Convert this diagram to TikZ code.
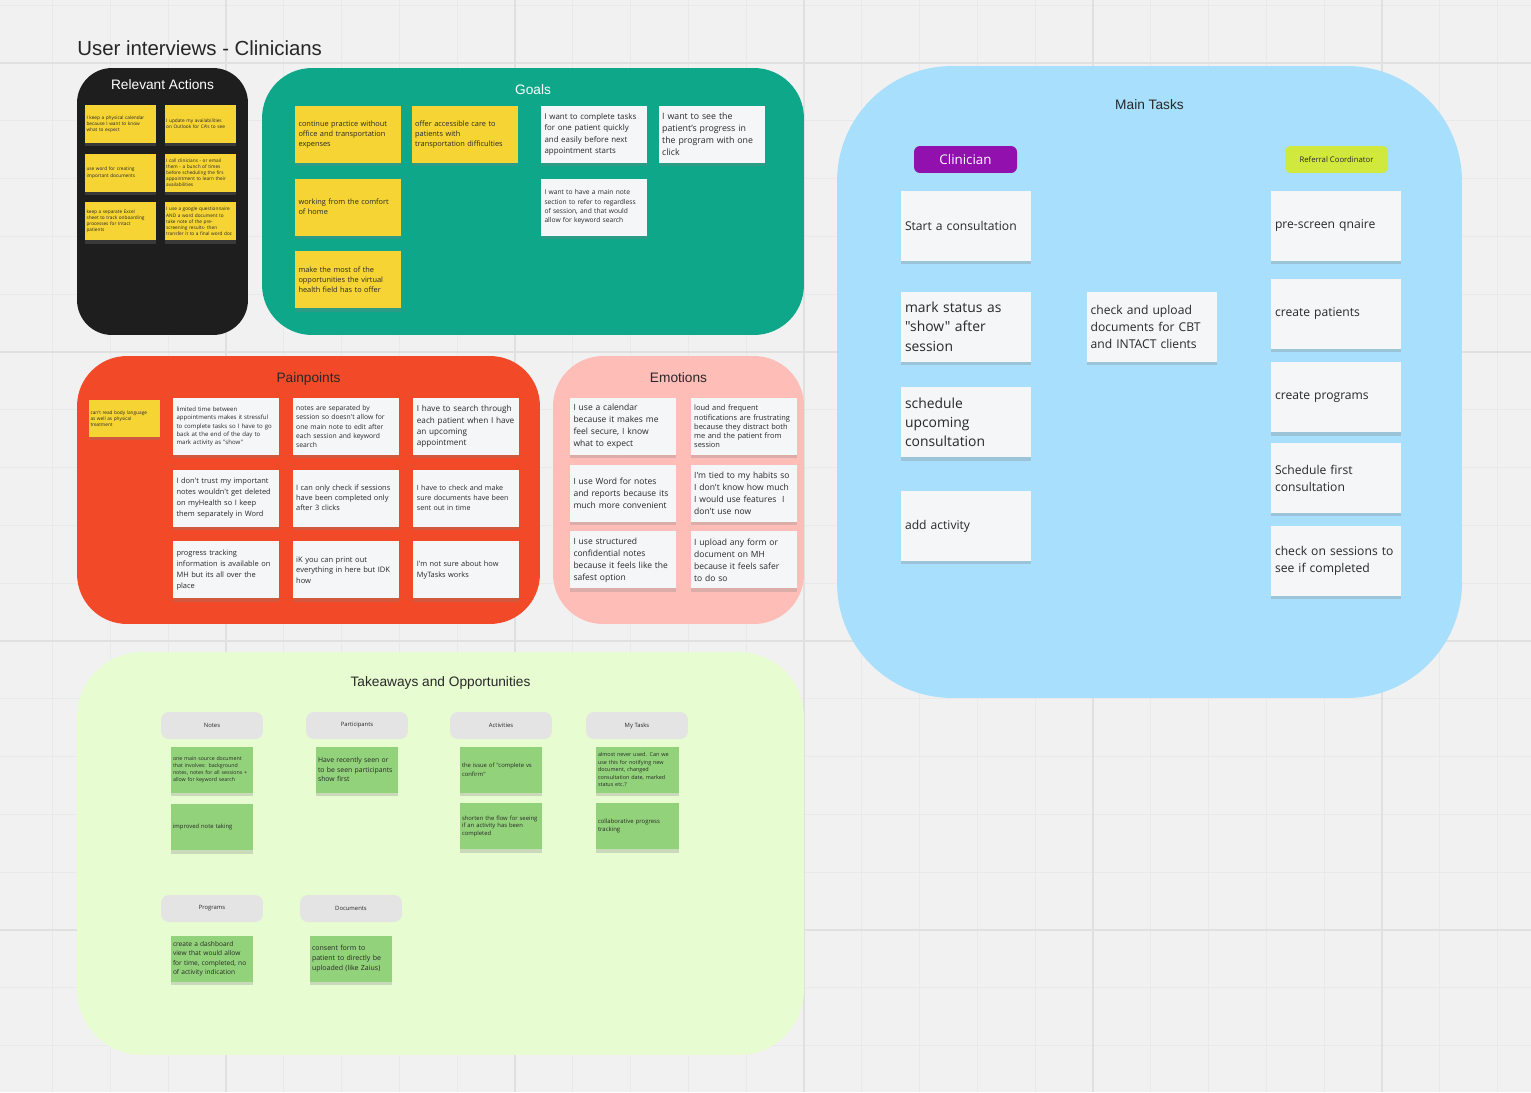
\documentclass[tikz,border=0pt]{standalone}
\usepackage{fontspec}
\setmainfont{Open Sans}[Ligatures=TeXOff]
\newfontfamily\headfont{Liberation Sans}
\usetikzlibrary{positioning,shadows}

\definecolor{canvasbg}{RGB}{241,241,241}
\definecolor{gridminor}{RGB}{233,233,233}
\definecolor{gridmajor}{RGB}{224,224,224}
\definecolor{noteink}{RGB}{40,40,40}
\definecolor{actionsblack}{RGB}{30,30,30}
\definecolor{goalsteal}{RGB}{14,167,137}
\definecolor{painred}{RGB}{242,74,40}
\definecolor{emopink}{RGB}{255,189,184}
\definecolor{takegreen}{RGB}{232,252,210}
\definecolor{tasksblue}{RGB}{168,223,252}
\definecolor{stickyyellow}{RGB}{245,212,52}
\definecolor{stickywhite}{RGB}{245,246,248}
\definecolor{stickygreen}{RGB}{146,210,122}
\definecolor{pillgray}{RGB}{228,228,228}
\definecolor{clinpurple}{RGB}{146,16,174}
\definecolor{refyellow}{RGB}{209,233,60}

\begin{document}
\begin{tikzpicture}[x=0.02cm, y=-0.02cm, node distance=0.2cm, every node/.style={text=noteink}]
  \tikzstyle{frame}=[inner sep=0pt, rounded corners=1cm]
  \tikzstyle{frametitle}=[inner sep=0pt, font=\headfont\fontsize{7.8}{9}\selectfont]
  \tikzstyle{sticky}=[align=left, inner ysep=0pt, drop shadow={shadow xshift=0pt, shadow yshift=-1.8pt, opacity=0.28}]
  \tikzstyle{smallsticky}=[sticky, minimum width=1.42cm, minimum height=0.76cm, inner xsep=0.03cm, text width=1.36cm]
  \tikzstyle{midsticky}=[sticky, minimum width=2.12cm, minimum height=1.14cm, inner xsep=0.07cm, text width=1.98cm]
  \tikzstyle{bigsticky}=[sticky, fill=stickywhite, minimum width=2.6cm, minimum height=1.4cm, inner xsep=0.08cm, text width=2.44cm, font=\fontsize{6.9}{9.6}\selectfont]
  \tikzstyle{greensticky}=[sticky, fill=stickygreen, minimum width=1.66cm, minimum height=0.92cm, inner xsep=0.05cm, text width=1.56cm]
  \tikzstyle{pill}=[fill=pillgray, rounded corners=0.16cm, minimum width=2.04cm, minimum height=0.54cm, inner sep=0pt, font=\fontsize{3.35}{4}\selectfont]
  \tikzstyle{tinytext}=[font=\fontsize{2.7}{3.5}\selectfont]
  \tikzstyle{midtext}=[font=\fontsize{4.2}{5.7}\selectfont]
  \tikzstyle{largetext}=[font=\fontsize{4.85}{6.8}\selectfont]

  % canvas and grid
  \fill[canvasbg] (0,0) rectangle (1531,1092);
  \useasboundingbox (0,0) rectangle (1531,1092);
  \foreach \i in {0,...,26} \draw[gridminor, line width=0.4pt] ({-5.2+57.8*\i},0) -- ++(0,1092);
  \foreach \i in {0,...,18} \draw[gridminor, line width=0.4pt] (0,{5.2+57.8*\i}) -- ++(1531,0);
  \foreach \i in {0,...,5} \draw[gridmajor, line width=0.6pt] ({-63+289*\i},0) -- ++(0,1092);
  \foreach \i in {0,...,3} \draw[gridmajor, line width=0.6pt] (0,{63+289*\i}) -- ++(1531,0);

  \node[anchor=west, inner sep=0pt, font=\headfont\fontsize{11.6}{13}\selectfont, text=black!85] (title) at (77,48) {User interviews - Clinicians};

  % frames
  \node[frame, fill=actionsblack, minimum width=3.42cm, minimum height=5.34cm, rounded corners=0.7cm] (actionsframe) at (162.5,201.5) {};
  \node[frame, fill=goalsteal, minimum width=10.84cm, minimum height=5.34cm] (goalsframe) at (533,201.5) {};
  \node[frame, fill=painred, minimum width=9.26cm, minimum height=5.36cm] (painframe) at (308.5,490) {};
  \node[frame, fill=emopink, minimum width=5.02cm, minimum height=5.36cm] (emoframe) at (678.5,490) {};
  \node[frame, fill=takegreen, minimum width=14.54cm, minimum height=8.06cm, rounded corners=1.3cm] (takeframe) at (440.5,853.5) {};
  \node[frame, fill=tasksblue, minimum width=12.5cm, minimum height=12.64cm, rounded corners=2.3cm] (tasksframe) at (1149.5,382) {};

  \node[frametitle, text=white, below=0.24cm of actionsframe.north] (actionstitle) {Relevant Actions};
  \node[frametitle, text=white, below=0.34cm of goalsframe.north] (goalstitle) {Goals};
  \node[frametitle, below=0.34cm of painframe.north] (paintitle) {Painpoints};
  \node[frametitle, below=0.34cm of emoframe.north] (emotitle) {Emotions};
  \node[frametitle, below=0.5cm of takeframe.north] (taketitle) {Takeaways and Opportunities};
  \node[frametitle, below=0.68cm of tasksframe.north] (taskstitle) {Main Tasks};

  % relevant actions
  \node[smallsticky, fill=stickyyellow, tinytext] (a1) at (120.5,124) {I keep a physical calendar\\because I want to know\\what to expect};
  \node[smallsticky, fill=stickyyellow, tinytext, right=0.16cm of a1] (a2) {I update my availabilities\\on Outlook for CA's to see};
  \node[smallsticky, fill=stickyyellow, tinytext, below=0.2cm of a1] (a3) {use word for creating\\important documents};
  \node[smallsticky, fill=stickyyellow, tinytext, right=0.16cm of a3] (a4) {I call clinicians - or email\\them - a bunch of times\\before scheduling the firs\\appointment to learn their\\availabilities};
  \node[smallsticky, fill=stickyyellow, tinytext, below=0.2cm of a3] (a5) {keep a separate Excel\\sheet to track onboarding\\processes for Intact\\patients};
  \node[smallsticky, fill=stickyyellow, tinytext, right=0.16cm of a5] (a6) {I use a google questionnaire\\AND a word document to\\take note of the pre-\\screening results- then\\transfer it to a final word doc};

  % goals
  \node[midsticky, fill=stickyyellow, midtext] (g1) at (348,134.5) {continue practice without\\office and transportation\\expenses};
  \node[midsticky, fill=stickyyellow, midtext, right=0.2cm of g1] (g2) {offer accessible care to\\patients with\\transportation difficulties};
  \node[midsticky, fill=stickyyellow, midtext, below=0.3cm of g1] (g3) {working from the comfort\\of home};
  \node[midsticky, fill=stickyyellow, midtext, below=0.3cm of g3] (g4) {make the most of the\\opportunities the virtual\\health field has to offer};
  \node[midsticky, fill=stickywhite, font=\fontsize{4.5}{6.4}\selectfont] (g5) at (594,134.5) {I want to complete tasks\\for one patient quickly\\and easily before next\\appointment starts};
  \node[midsticky, fill=stickywhite, font=\fontsize{5.0}{6.8}\selectfont, right=0.22cm of g5] (g6) {I want to see the\\patient’s progress in\\the program with one\\click};
  \node[midsticky, fill=stickywhite, font=\fontsize{3.8}{5.3}\selectfont, below=0.3cm of g5] (g7) {I want to have a main note\\section to refer to regardless\\of session, and that would\\allow for keyword search};

  % painpoints
  \node[smallsticky, fill=stickyyellow, tinytext, minimum height=0.74cm] (p1) at (124.5,418.5) {can't read body language\\as well as physical\\treatment};
  \node[midsticky, fill=stickywhite, font=\fontsize{3.45}{4.65}\selectfont] (p2) at (226,426.5) {limited time between\\appointments makes it stressful\\to complete tasks so I have to go\\back at the end of the day to\\mark activity as "show"};
  \node[midsticky, fill=stickywhite, font=\fontsize{3.85}{5.2}\selectfont, right=0.26cm of p2] (p3) {notes are separated by\\session so doesn't allow for\\one main note to edit after\\each session and keyword\\search};
  \node[midsticky, fill=stickywhite, font=\fontsize{4.65}{6.4}\selectfont, right=0.28cm of p3] (p4) {I have to search through\\each patient when I have\\an upcoming\\appointment};
  \node[midsticky, fill=stickywhite, font=\fontsize{4.25}{6.2}\selectfont, below=0.28cm of p2] (p5) {I don't trust my important\\notes wouldn't get deleted\\on myHealth so I keep\\them separately in Word};
  \node[midsticky, fill=stickywhite, font=\fontsize{4.2}{5.7}\selectfont, right=0.26cm of p5] (p6) {I can only check if sessions\\have been completed only\\after 3 clicks};
  \node[midsticky, fill=stickywhite, font=\fontsize{4.05}{5.7}\selectfont, right=0.28cm of p6] (p7) {I have to check and make\\sure documents have been\\sent out in time};
  \node[midsticky, fill=stickywhite, font=\fontsize{4.25}{6.2}\selectfont, below=0.28cm of p5] (p8) {progress tracking\\information is available on\\MH but its all over the\\place};
  \node[midsticky, fill=stickywhite, font=\fontsize{4.3}{6}\selectfont, right=0.26cm of p8] (p9) {iK you can print out\\everything in here but IDK\\how};
  \node[midsticky, fill=stickywhite, font=\fontsize{4.2}{6.2}\selectfont, right=0.28cm of p9] (p10) {I'm not sure about how\\MyTasks works};

  % emotions
  \node[midsticky, fill=stickywhite, largetext] (e1) at (623,426.5) {I use a calendar\\because it makes me\\feel secure, I know\\what to expect};
  \node[midsticky, fill=stickywhite, font=\fontsize{4.25}{5.3}\selectfont, right=0.28cm of e1] (e2) {loud and frequent\\notifications are frustrating\\because they distract both\\me and the patient from\\session};
  \node[midsticky, fill=stickywhite, largetext, below=0.18cm of e1] (e3) {I use Word for notes\\and reports because its\\much more convenient};
  \node[midsticky, fill=stickywhite, largetext, right=0.28cm of e3] (e4) {I'm tied to my habits so\\I don't know how much\\I would use features~ I\\don't use now};
  \node[midsticky, fill=stickywhite, largetext, below=0.18cm of e3] (e5) {I use structured\\confidential notes\\because it feels like the\\safest option};
  \node[midsticky, fill=stickywhite, largetext, right=0.28cm of e5] (e6) {I upload any form or\\document on MH\\because it feels safer\\to do so};

  % takeaways and opportunities
  \node[pill] (notespill) at (212,725.5) {Notes};
  \node[pill] (partpill) at (357,725.5) {Participants};
  \node[pill] (actpill) at (501,725.5) {Activities};
  \node[pill] (mytaskspill) at (637,725.5) {My Tasks};
  \node[pill] (progpill) at (212,908.5) {Programs};
  \node[pill] (docpill) at (351,908.5) {Documents};

  \node[greensticky, font=\fontsize{3.0}{4.1}\selectfont, below=0.14cm of notespill] (n1) {one main source document\\that involves: background\\notes, notes for all sessions +\\allow for keyword search};
  \node[greensticky, font=\fontsize{3.35}{4.5}\selectfont, below=0.22cm of n1] (n2) {improved note taking};
  \node[greensticky, font=\fontsize{3.9}{5.4}\selectfont, below=0.14cm of partpill] (pa1) {Have recently seen or\\to be seen participants\\show first};
  \node[greensticky, font=\fontsize{3.35}{4.8}\selectfont, below=0.14cm of actpill] (ac1) {the issue of "complete vs\\confirm"};
  \node[greensticky, font=\fontsize{3.35}{4.5}\selectfont, below=0.2cm of ac1] (ac2) {shorten the flow for seeing\\if an activity has been\\completed};
  \node[greensticky, font=\fontsize{3.1}{4.2}\selectfont, below=0.14cm of mytaskspill] (mt1) {almost never used. Can we\\use this for notifying new\\document, changed\\consultation date, marked\\status etc.?};
  \node[greensticky, font=\fontsize{3.4}{4.5}\selectfont, below=0.2cm of mt1] (mt2) {collaborative progress\\tracking};
  \node[greensticky, font=\fontsize{3.75}{5.3}\selectfont, below=0.26cm of progpill] (pr1) {create a dashboard\\view that would allow\\for time, completed, no\\of activity indication};
  \node[greensticky, font=\fontsize{4.0}{5.6}\selectfont, below=0.26cm of docpill] (do1) {consent form to\\patient to directly be\\uploaded (like Zaius)};

  % main tasks
  \node[fill=clinpurple, rounded corners=0.12cm, minimum width=2.06cm, minimum height=0.54cm, inner sep=0pt, text=white, font=\fontsize{7.6}{8}\selectfont] (clinician) at (965.5,159.5) {Clinician};
  \node[fill=refyellow, rounded corners=0.12cm, minimum width=2.06cm, minimum height=0.54cm, inner sep=0pt, font=\fontsize{4.4}{5}\selectfont] (referral) at (1336.5,159.5) {Referral Coordinator};

  \node[bigsticky] (m1) at (966,226) {Start a consultation};
  \node[bigsticky, font=\fontsize{7.9}{11}\selectfont, below=0.6cm of m1] (m2) {mark status as\\"show" after\\session};
  \node[bigsticky, font=\fontsize{7.9}{11}\selectfont, below=0.5cm of m2] (m3) {schedule\\upcoming\\consultation};
  \node[bigsticky, below=0.66cm of m3] (m4) {add activity};
  \node[bigsticky, right=1.1cm of m2] (m5) {check and upload\\documents for CBT\\and INTACT clients};

  \node[bigsticky] (r1) at (1336,226) {pre-screen qnaire};
  \node[bigsticky, below=0.34cm of r1] (r2) {create patients};
  \node[bigsticky, below=0.26cm of r2] (r3) {create programs};
  \node[bigsticky, below=0.2cm of r3] (r4) {Schedule first\\consultation};
  \node[bigsticky, below=0.24cm of r4] (r5) {check on sessions to\\see if completed};
\end{tikzpicture}
\end{document}
